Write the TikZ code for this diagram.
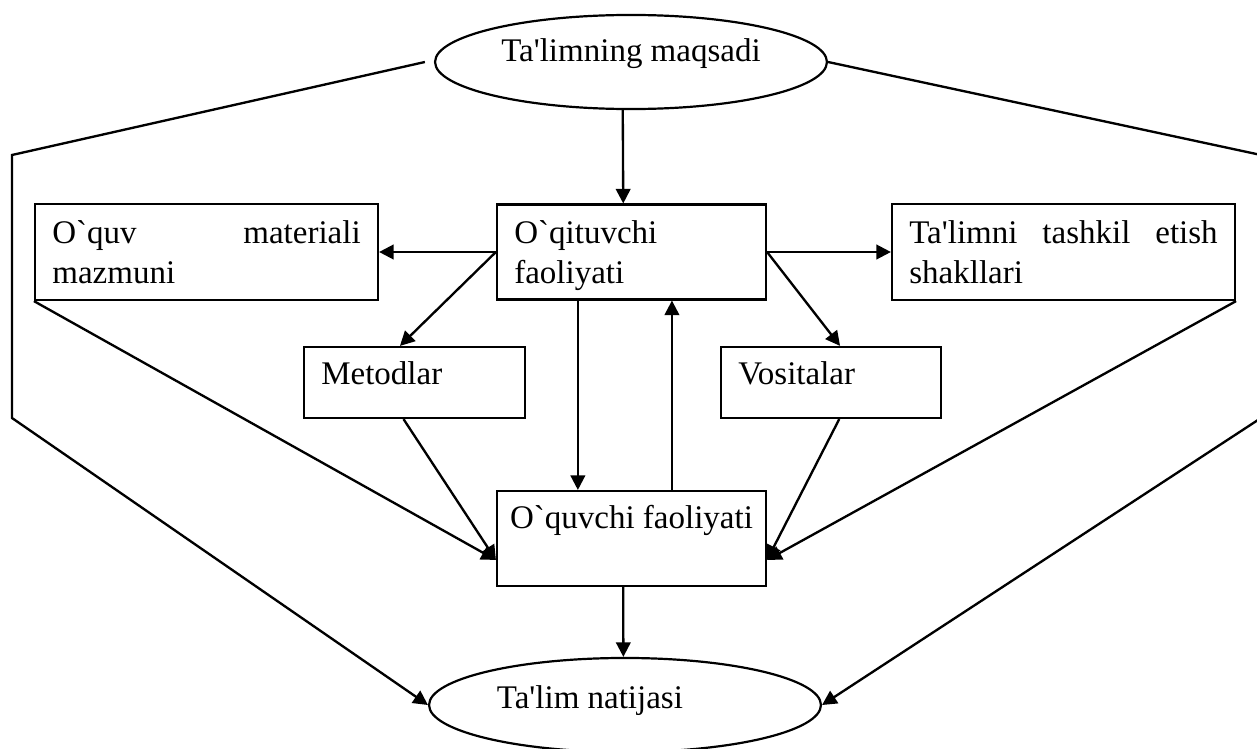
\documentclass[tikz,border=0pt]{standalone}
\usepackage{fontspec}
\setmainfont{Liberation Serif}[Ligatures=TeXOff]
\usetikzlibrary{arrows.meta, shapes.geometric}

\begin{document}
\begin{tikzpicture}[
		x=0.3636pt, y=-0.3636pt,
		font=\fontsize{12}{14.5}\selectfont,
		box/.style={draw, line width=0.8pt, inner xsep=6.3pt, inner ysep=2pt, text height=8.5pt, align=left},
		oval/.style={draw, ellipse, line width=0.8pt, inner sep=0pt, minimum width=142.5pt, minimum height=34.2pt, text height=8.5pt},
		arrow/.style={-{Triangle[length=5.3pt, width=5.3pt]}, line width=0.85pt}
	]
	\useasboundingbox (0,0) rectangle (1257,749);

	% Nodes
	\node[oval, text depth=8.5pt] (goal) at (631,62) {Ta'limning maqsadi};
	\node[box, text width=85.2pt, minimum width=97.8pt, minimum height=34.5pt, text depth=14.5pt] (teacher) at (631.5,252) {O`qituvchi\\faoliyati};
	\node[box, text width=112.1pt, minimum width=124.7pt, minimum height=34.9pt, text depth=14.5pt] (material) at (206.5,252) {O`quv\hfill materiali\\mazmuni};
	\node[box, text width=112.1pt, minimum width=124.7pt, minimum height=34.9pt, text depth=14.5pt] (forms) at (1063.5,252) {Ta'limni\hfill tashkil\hfill etish\\shakllari};
	\node[box, text width=67.8pt, minimum width=80.4pt, minimum height=25.8pt, text depth=6.7pt] (methods) at (414.5,382.5) {Metodlar};
	\node[box, text width=67.4pt, minimum width=80pt, minimum height=25.8pt, text depth=6.7pt] (means) at (831,382.5) {Vositalar};
	\node[box, align=center, inner xsep=4pt, minimum width=97.8pt, minimum height=34.5pt, text depth=16pt] (student) at (631.5,538.5) {O`quvchi faoliyati};
	\node[oval, text depth=6.3pt] (result) at (625,705) {Ta'lim natijasi\hspace*{25.5pt}};

	% Bends of the outer lines
	\coordinate (lefttop) at (12,155);
	\coordinate (leftbottom) at (12,418);
	\coordinate (righttop) at (1261,155);
	\coordinate (rightbottom) at (1261,418);

	% Connections
	\draw[arrow] ([xshift=-3pt]goal.south) -- ([xshift=-3pt]teacher.north);

	\draw[arrow] (teacher.west) -- (material.east);
	\draw[arrow] (teacher.east) -- (forms.west);
	\draw[arrow] (teacher.west) -- ([xshift=-5.3pt]methods.north);
	\draw[arrow] (teacher.east) -- ([xshift=3.3pt]means.north);

	\draw[arrow] ([xshift=-19.5pt]teacher.south) -- ([xshift=-19.5pt]student.north);
	\draw[arrow] ([xshift=14.7pt]student.north) -- ([xshift=14.7pt]teacher.south);

	\draw[arrow] (material.south west) -- ([yshift=-7.8pt]student.west);
	\draw[arrow] ([xshift=-4pt]methods.south) -- ([yshift=-7.8pt]student.west);
	\draw[arrow] ([xshift=3pt]means.south) -- ([yshift=-7.8pt]student.east);
	\draw[arrow] (forms.south east) -- ([yshift=-7.8pt]student.east);

	\draw[arrow] ([xshift=-3pt]student.south) -- ([xshift=-0.6pt]result.north);

	\draw[arrow] ([xshift=-3.3pt]goal.west) -- (lefttop) -- (leftbottom) -- (result.west);
	\draw[arrow] (goal.east) -- (righttop) -- (rightbottom) -- (result.east);

\end{tikzpicture}
\end{document}
